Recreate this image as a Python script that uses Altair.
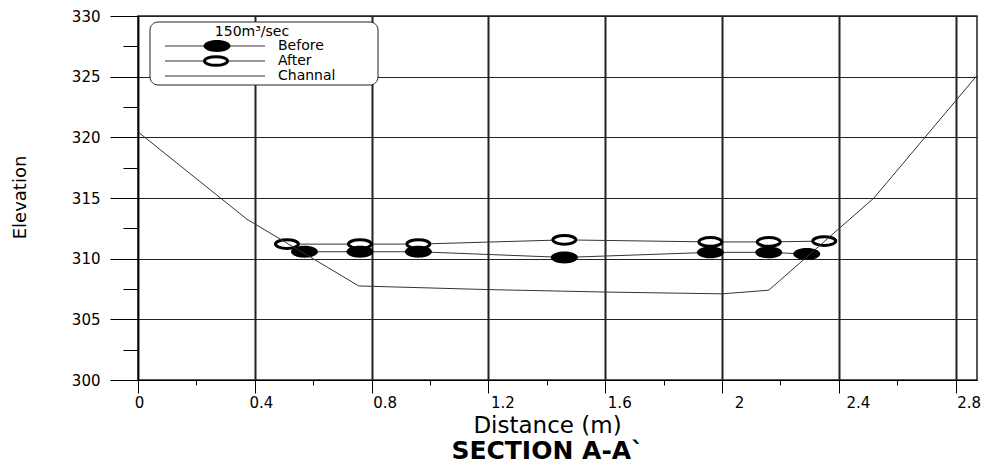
import altair as alt
import pandas as pd

# ---------------- data ----------------
after_x = [0.51, 0.76, 0.96, 1.46, 1.96, 2.16, 2.35]
after_y = [311.2, 311.2, 311.2, 311.55, 311.38, 311.38, 311.45]

before_x = [0.57, 0.76, 0.96, 1.46, 1.96, 2.16, 2.29]
before_y = [310.57, 310.57, 310.57, 310.1, 310.52, 310.52, 310.38]

channel_x = [0.0, 0.373, 0.756, 1.2, 1.6, 2.0, 2.16, 2.52, 2.873]
channel_y = [320.45, 313.25, 307.75, 307.45, 307.25, 307.1, 307.4, 315.0, 325.1]

x_ticks = [round(0.2 * i, 1) for i in range(15)]      # 0 .. 2.8, majors every 0.4
y_ticks = [300 + 2.5 * i for i in range(13)]           # 300 .. 330, majors every 5
x_label_shift = {0: 1, 0.4: 6, 0.8: 13, 1.2: 14, 1.6: 14, 2: 17, 2.4: 19, 2.8: 13}

legend_title = "150m³/sec"
series_names = ["Before", "After", "Channal"]
x_title = "Distance (m)"
y_title = "Elevation"
chart_title = "SECTION A-A`"

X_MAX = 2.873
FONT = "DejaVu Sans"

after_df = pd.DataFrame({"x": after_x, "y": after_y})
before_df = pd.DataFrame({"x": before_x, "y": before_y})
channel_df = pd.DataFrame({"x": channel_x, "y": channel_y})

ELL_B = ("M -1 0 C -1 -0.243 -0.5523 -0.44 0 -0.44 C 0.5523 -0.44 1 -0.243 1 0 "
         "C 1 0.243 0.5523 0.44 0 0.44 C -0.5523 0.44 -1 0.243 -1 0 Z")
ELL_A = ("M -1 0 C -1 -0.210 -0.5523 -0.38 0 -0.38 C 0.5523 -0.38 1 -0.210 1 0 "
         "C 1 0.210 0.5523 0.38 0 0.38 C -0.5523 0.38 -1 0.210 -1 0 Z")

x_major = "round(datum.value*10) % 4 === 0"
y_major = "datum.value % 5 === 0"

x_axis = alt.Axis(
    values=x_ticks,
    format="~g",
    labelExpr=f"{x_major} ? datum.label : ''",
    labelFlush=False,
    tickSize={"condition": {"test": x_major, "value": 13}, "value": 5},
    gridOpacity={"condition": {"test": x_major, "value": 1}, "value": 0},
    labelOffset={"condition": [
        {"test": f"abs(datum.value - {k}) < 0.01", "value": v} for k, v in x_label_shift.items()
    ], "value": 0},
    gridWidth=2,
    labelPadding=2,
    labelFontSize=15,
    labelFont=FONT,
    title=x_title,
    titleFont=FONT,
    titleFontSize=23,
    titleFontWeight="normal",
    titleX=409,
    titleY=52,
    titleBaseline="alphabetic",
)

y_axis = alt.Axis(
    values=y_ticks,
    labelExpr=f"{y_major} ? datum.label : ''",
    labelFlush=False,
    tickSize={"condition": {"test": y_major, "value": 28}, "value": 15},
    gridOpacity={"condition": {"test": y_major, "value": 1}, "value": 0},
    gridWidth=1,
    labelPadding=10,
    labelFontSize=15,
    labelFont=FONT,
    title=y_title,
    titleFont=FONT,
    titleFontSize=18,
    titleFontWeight="normal",
    titleX=-118,
    titleY=181,
    titleAngle=270,
    titleAlign="center",
    titleBaseline="middle",
)

x_enc = alt.X("x:Q", scale=alt.Scale(domain=[0, X_MAX], nice=False, zero=False), axis=x_axis)
y_enc = alt.Y("y:Q", scale=alt.Scale(domain=[300, 330], nice=False, zero=False), axis=y_axis)

after_line = alt.Chart(after_df).mark_line(color="#333", strokeWidth=1).encode(x=x_enc, y=y_enc)
before_line = alt.Chart(before_df).mark_line(color="#333", strokeWidth=1).encode(x=x_enc, y=y_enc)
after_pts = alt.Chart(after_df).mark_point(
    shape=ELL_A, size=529, filled=True, fill="white", stroke="black", strokeWidth=3, opacity=1
).encode(x=x_enc, y=y_enc)
before_pts = alt.Chart(before_df).mark_point(
    shape=ELL_B, size=729, filled=True, color="black", opacity=1
).encode(x=x_enc, y=y_enc)
channel_line = alt.Chart(channel_df).mark_line(color="#333", strokeWidth=1).encode(x=x_enc, y=y_enc)

# ---------------- legend (decoration) ----------------
one = alt.Data(values=[{"k": 1}])
rows_y = [30, 45, 60]
leg = [
    alt.Chart(one).mark_rect(cornerRadius=8, fill="white", stroke="#222", strokeWidth=1).encode(
        x=alt.value(12), x2=alt.value(240), y=alt.value(6), y2=alt.value(69)),
    alt.Chart(one).mark_text(font=FONT, fontSize=14, align="center", baseline="alphabetic", color="black").encode(
        x=alt.value(114), y=alt.value(20), text=alt.value(legend_title)),
]
for name, ry in zip(series_names, rows_y):
    leg.append(alt.Chart(one).mark_rule(color="#333", strokeWidth=1).encode(
        x=alt.value(27), x2=alt.value(127), y=alt.value(ry)))
    leg.append(alt.Chart(one).mark_text(font=FONT, fontSize=14, align="left", baseline="middle", color="black").encode(
        x=alt.value(140), y=alt.value(ry), text=alt.value(name)))
leg.append(alt.Chart(one).mark_point(shape=ELL_B, size=729, filled=True, color="black", opacity=1).encode(
    x=alt.value(79), y=alt.value(rows_y[0])))
leg.append(alt.Chart(one).mark_point(shape=ELL_A, size=529, filled=True, fill="white", stroke="black",
                                     strokeWidth=3, opacity=1).encode(x=alt.value(78), y=alt.value(rows_y[1])))

chart = alt.layer(
    after_line, before_line, after_pts, before_pts, channel_line, *leg
).properties(
    width=839,
    height=364,
    autosize=alt.AutoSizeParams(type="none"),
    padding={"left": 130, "top": 8, "right": 10, "bottom": 88},
    title=alt.TitleParams(chart_title, orient="bottom", anchor="middle", dx=-10, offset=2,
                          font=FONT, fontSize=25, fontWeight="bold", color="black"),
).configure_view(
    stroke="#222", strokeWidth=1.5
).configure_axis(
    domainColor="black", tickColor="black", labelColor="black", titleColor="black",
    gridColor="#222", tickWidth=1, domainWidth=1
)

chart.save("out.html", embed_options={"renderer": "svg", "actions": False})
